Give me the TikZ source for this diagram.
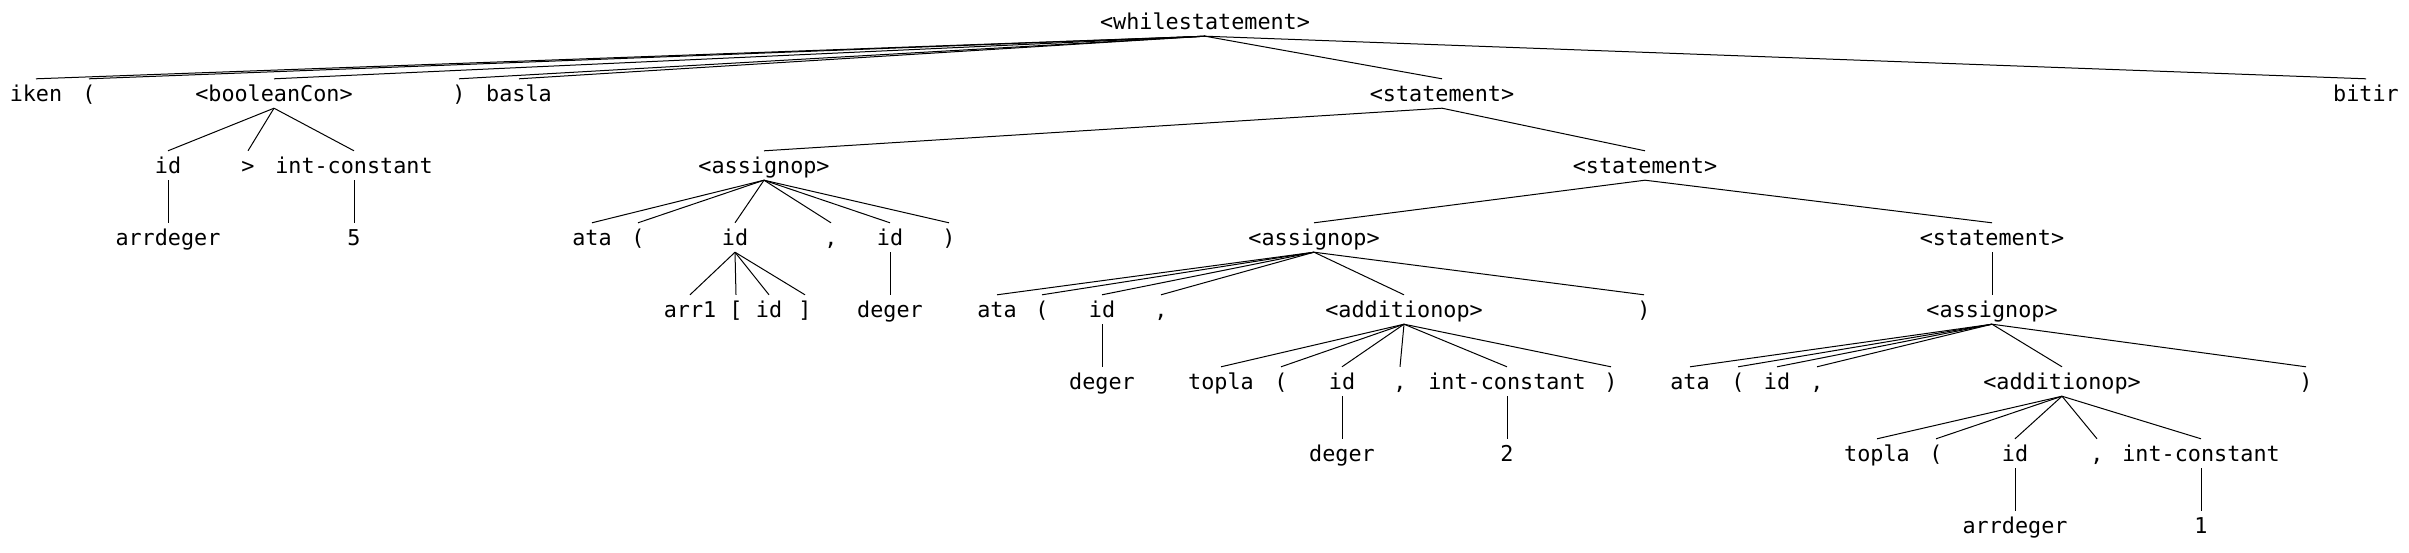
\documentclass[tikz,border=0pt]{standalone}
\usepackage{fontspec}
\newfontfamily\treefont{DejaVu Sans Mono}
\begin{document}
\begin{tikzpicture}[x=1pt,y=-1pt,
  t/.style={anchor=base,inner sep=0pt,text height=22pt,text depth=7pt,
    font=\treefont\fontsize{21.8}{26}\selectfont},
  edge/.style={line width=1pt,black}]
\useasboundingbox[fill=white] (0,0) rectangle (2409,552);
% row 1
\node[t] (W) at (1205,29) {<whilestatement>};
% row 2
\node[t] (iken) at (36,101) {iken};
\node[t] (lpa) at (89,101) {(};
\node[t] (bool) at (274,101) {<booleanCon>};
\node[t] (rpa) at (459,101) {)};
\node[t] (basla) at (519,101) {basla};
\node[t] (sta) at (1442,101) {<statement>};
\node[t] (bitir) at (2366,101) {bitir};
% row 3
\node[t] (ida) at (168,173) {id};
\node[t] (gt) at (248,173) {>};
\node[t] (ica) at (354,173) {int-constant};
\node[t] (asa) at (764,173) {<assignop>};
\node[t] (stb) at (1645,173) {<statement>};
% row 4
\node[t] (arra) at (168,245) {arrdeger};
\node[t] (five) at (354,245) {5};
\node[t] (ataa) at (592,245) {ata};
\node[t] (lpb) at (638,245) {(};
\node[t] (idb) at (735,245) {id};
\node[t] (cma) at (831,245) {,};
\node[t] (idc) at (890,245) {id};
\node[t] (rpb) at (949,245) {)};
\node[t] (asb) at (1314,245) {<assignop>};
\node[t] (stc) at (1992,245) {<statement>};
% row 5
\node[t] (arrone) at (690,317) {arr1};
\node[t] (lb) at (736,317) {[};
\node[t] (idd) at (769,317) {id};
\node[t] (rb) at (805,317) {]};
\node[t] (dega) at (890,317) {deger};
\node[t] (atab) at (997,317) {ata};
\node[t] (lpc) at (1042,317) {(};
\node[t] (ide) at (1102,317) {id};
\node[t] (cmb) at (1161,317) {,};
\node[t] (ada) at (1404,317) {<additionop>};
\node[t] (rpc) at (1644,317) {)};
\node[t] (asc) at (1992,317) {<assignop>};
% row 6
\node[t] (degb) at (1102,389) {deger};
\node[t] (topa) at (1221,389) {topla};
\node[t] (lpd) at (1281,389) {(};
\node[t] (idf) at (1342,389) {id};
\node[t] (cmc) at (1400,389) {,};
\node[t] (icb) at (1507,389) {int-constant};
\node[t] (rpd) at (1611,389) {)};
\node[t] (atac) at (1690,389) {ata};
\node[t] (lpe) at (1738,389) {(};
\node[t] (idg) at (1777,389) {id};
\node[t] (cmd) at (1817,389) {,};
\node[t] (adb) at (2062,389) {<additionop>};
\node[t] (rpe) at (2306,389) {)};
% row 7
\node[t] (degc) at (1342,461) {deger};
\node[t] (two) at (1507,461) {2};
\node[t] (topb) at (1877,461) {topla};
\node[t] (lpf) at (1936,461) {(};
\node[t] (idh) at (2015,461) {id};
\node[t] (cme) at (2097,461) {,};
\node[t] (icc) at (2201,461) {int-constant};
% row 8
\node[t] (arrb) at (2015,533) {arrdeger};
\node[t] (one) at (2201,533) {1};
% edges
\foreach \p/\c in {W/iken,W/lpa,W/bool,W/rpa,W/basla,W/sta,W/bitir,
  bool/ida,bool/gt,bool/ica,ida/arra,ica/five,
  sta/asa,sta/stb,
  asa/ataa,asa/lpb,asa/idb,asa/cma,asa/idc,asa/rpb,
  idb/arrone,idb/lb,idb/idd,idb/rb,idc/dega,
  stb/asb,stb/stc,
  asb/atab,asb/lpc,asb/ide,asb/cmb,asb/ada,asb/rpc,ide/degb,
  ada/topa,ada/lpd,ada/idf,ada/cmc,ada/icb,ada/rpd,idf/degc,icb/two,
  stc/asc,
  asc/atac,asc/lpe,asc/idg,asc/cmd,asc/adb,asc/rpe,
  adb/topb,adb/lpf,adb/idh,adb/cme,adb/icc,idh/arrb,icc/one}
  \draw[edge] (\p.south) -- (\c.north);
\end{tikzpicture}
\end{document}
